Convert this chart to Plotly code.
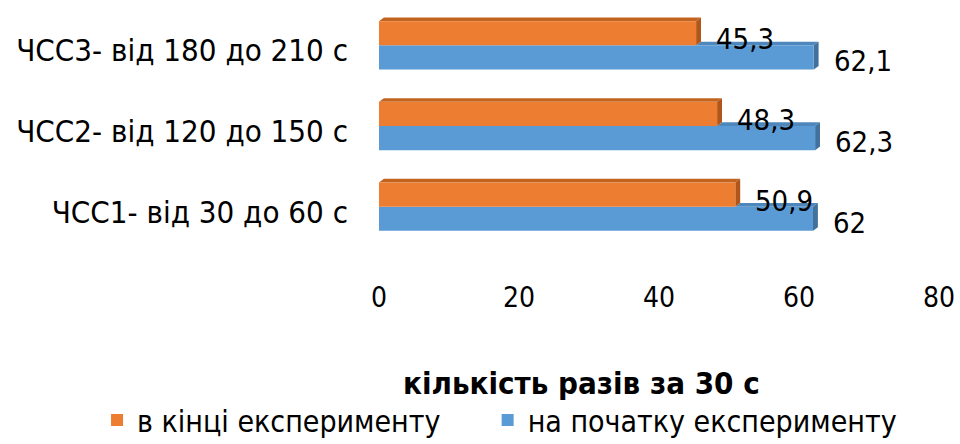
import plotly.graph_objects as go

# Heart-rate intervals (bottom to top on the category axis)
categories = [
    "ЧСС1- від 30 до 60 с",
    "ЧСС2- від 120 до 150 с",
    "ЧСС3- від 180 до 210 с",
]
end_values = [50.9, 48.3, 45.3]      # в кінці експерименту
start_values = [62, 62.3, 62.1]      # на початку експерименту
series_names = ["в кінці експерименту", "на початку експерименту"]
x_ticks = [0, 20, 40, 60, 80]
axis_title = "кількість разів за 30 с"

ORANGE, ORANGE_TOP, ORANGE_SIDE = "#ED7D31", "#C2641F", "#B0561A"
BLUE, BLUE_TOP, BLUE_SIDE = "#5B9BD5", "#4E87BC", "#41719C"
FONT = "'DejaVu Sans Condensed', 'DejaVu Sans', sans-serif"
BARGAP = 0.4


def fmt(v):
    return f"{v:g}".replace(".", ",")


fig = go.Figure()
# first trace sits lower inside each group for horizontal bars
fig.add_trace(go.Bar(
    y=categories, x=start_values, orientation="h", name=series_names[1],
    marker=dict(color=BLUE, line=dict(width=0)), legend="legend2",
))
fig.add_trace(go.Bar(
    y=categories, x=end_values, orientation="h", name=series_names[0],
    marker=dict(color=ORANGE, line=dict(width=0)), legend="legend",
))

# pseudo-3D faces (top and right side) and value labels, from the bar values
half = (1 - BARGAP) / 2
dx, dy = 0.7, 0.045
shapes, labels = [], []
for i, (o, b) in enumerate(zip(end_values, start_values)):
    c = i
    faces = [
        (f"M {o},{c} L {b},{c} L {b+dx},{c+dy} L {o+dx},{c+dy} Z", BLUE_TOP),
        (f"M {b},{c-half} L {b},{c} L {b+dx},{c+dy} L {b+dx},{c-half+dy} Z", BLUE_SIDE),
        (f"M 0,{c+half} L {o},{c+half} L {o+dx},{c+half+dy} L {dx},{c+half+dy} Z", ORANGE_TOP),
        (f"M {o},{c} L {o},{c+half} L {o+dx},{c+half+dy} L {o+dx},{c+dy} Z", ORANGE_SIDE),
    ]
    for path, col in faces:
        shapes.append(dict(type="path", path=path, xref="x", yref="y",
                           fillcolor=col, line=dict(width=0), layer="below"))
    labels.append(dict(x=o, y=c + half / 2, text=fmt(o), xref="x", yref="y",
                       xanchor="left", yanchor="middle", xshift=18, yshift=-6,
                       showarrow=False, font=dict(size=29, family=FONT, color="#000")))
    labels.append(dict(x=b, y=c - half / 2, text=fmt(b), xref="x", yref="y",
                       xanchor="left", yanchor="middle", xshift=18, yshift=-4,
                       showarrow=False, font=dict(size=29, family=FONT, color="#000")))

labels.append(dict(
    text=f"<b>{axis_title}</b>", xref="paper", yref="paper",
    x=0.362, y=-0.56, xanchor="center", yanchor="middle",
    showarrow=False, font=dict(size=31, family=FONT, color="#000"),
))

legend_common = dict(
    orientation="h", xref="paper", yref="container",
    y=0.054, xanchor="left", yanchor="middle",
    font=dict(size=30, family=FONT), itemwidth=30,
    bgcolor="rgba(0,0,0,0)",
)

fig.update_layout(
    width=960, height=444,
    margin=dict(l=379, r=15, t=5, b=197),
    paper_bgcolor="white", plot_bgcolor="white",
    barmode="group", bargap=BARGAP, bargroupgap=0,
    separators=", ",
    font=dict(family=FONT, size=28, color="#000000"),
    shapes=shapes,
    annotations=labels,
    showlegend=True,
    legend=dict(x=-0.5035, **legend_common),
    legend2=dict(x=0.194, **legend_common),
)
fig.update_xaxes(
    range=[0, 80], tickvals=x_ticks, ticktext=[str(t) for t in x_ticks],
    showgrid=False, zeroline=False, showline=False, ticks="",
    tickfont=dict(size=28, family=FONT), ticklabelstandoff=31,
    ticklabeloverflow="allow",
)
fig.update_yaxes(
    categoryorder="array", categoryarray=categories,
    range=[-0.5, 2.5],
    showgrid=False, zeroline=False, showline=False, ticks="",
    tickfont=dict(size=31, family=FONT), ticklabelstandoff=30,
    ticklabelshift=5,
)

fig.write_html("out.html")
